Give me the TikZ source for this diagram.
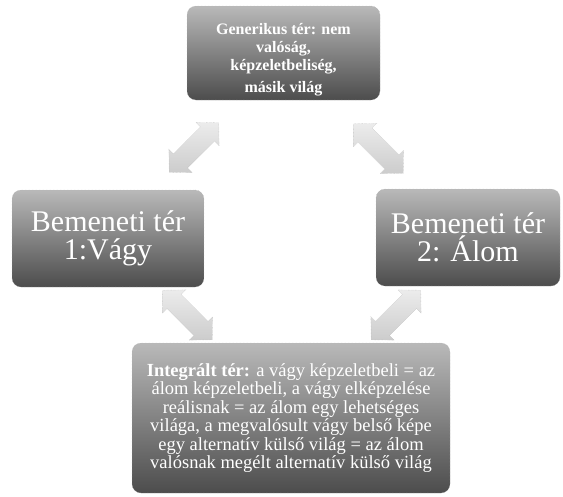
\documentclass[tikz,border=0pt]{standalone}
\usepackage{fontspec}
\setmainfont{Liberation Serif}

\tikzset{
  dblarrow/.style={draw=gray!55,densely dotted,top color=gray!15,bottom color=gray!40},
}
\newcommand{\dblarrowpath}{(-35,0) -- (-19,16.5) -- (-19,10) -- (19,10) -- (19,16.5) -- (35,0)
  -- (19,-16.5) -- (19,-10) -- (-19,-10) -- (-19,-16.5) -- cycle}

\begin{document}
\begin{tikzpicture}[x=1pt,y=-1pt]

        \useasboundingbox (0,0) rectangle (563,496);

        \begin{scope}[every node/.style={rounded corners=9pt,draw=gray!60,densely dotted,
            top color=gray!55,bottom color=black!70,text=white,align=center,inner sep=0pt}]
          \node[minimum width=193pt,minimum height=94pt,font=\bfseries\fontsize{16}{18}\selectfont]
            (gen) at (283.5,53) {\rule{0pt}{24pt}Generikus tér: nem\\valóság,\\képzeletbeliség,\\[4pt]másik világ};
          \node[minimum width=192pt,minimum height=97pt,font=\fontsize{30}{28}\selectfont]
            (in1) at (108,238.5) {Bemeneti tér\\1:Vágy};
          \node[minimum width=184pt,minimum height=97pt,font=\fontsize{30}{28}\selectfont]
            (in2) at (468,237.5) {Bemeneti tér\\2: Álom};
          \node[minimum width=318pt,minimum height=150pt,font=\fontsize{18.5}{18.5}\selectfont]
            (blend) at (291,418) {\textbf{Integrált tér:} a vágy képzeletbeli = az\\
              álom képzeletbeli, a vágy elképzelése\\
              reálisnak = az álom egy lehetséges\\
              világa, a megvalósult vágy belső képe\\
              egy alternatív külső világ = az álom\\
              valósnak megélt alternatív külső világ};
        \end{scope}

        % the four double arrows
        \path[dblarrow,shift={(194,147.5)},rotate=45] \dblarrowpath;
        \path[dblarrow,shift={(378.5,148.5)},rotate=-45] \dblarrowpath;
        \path[dblarrow,shift={(187.5,315)},rotate=-45] \dblarrowpath;
        \path[dblarrow,shift={(396,315)},rotate=45] \dblarrowpath;

      \end{tikzpicture}
\end{document}
